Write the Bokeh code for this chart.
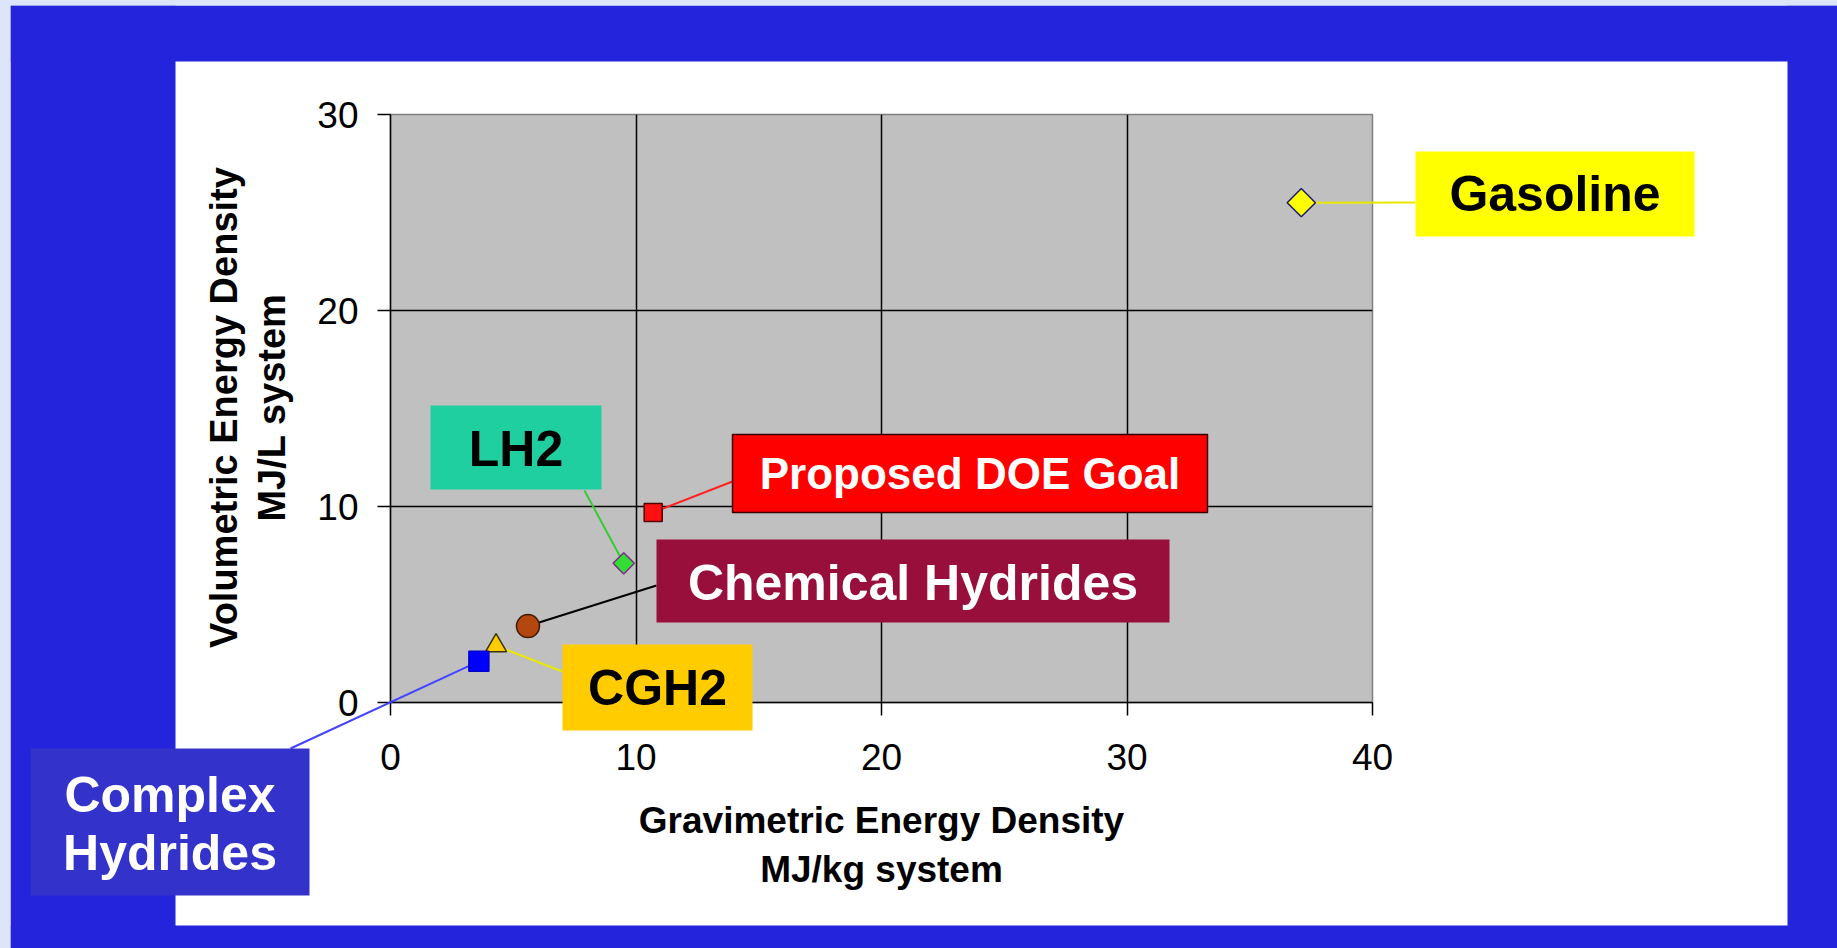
import numpy as np
from bokeh.plotting import figure
from bokeh.models import Range1d, FixedTicker
from bokeh.core.properties import value
from bokeh.embed import file_html
from bokeh.resources import INLINE

# --- data: hydrogen storage options vs gasoline (system basis) ---
names = ["Gasoline", "Proposed DOE Goal", "LH2", "Chemical Hydrides", "CGH2", "Complex Hydrides"]
gravimetric = [37.1, 10.7, 9.5, 5.6, 4.3, 3.6]   # MJ/kg system
volumetric = [25.5, 9.7, 7.1, 3.9, 2.9, 2.1]     # MJ/L system
x_ticks = [0, 10, 20, 30, 40]
y_ticks = [0, 10, 20, 30]
x_title = ["Gravimetric Energy Density", "MJ/kg system"]
y_title = ["Volumetric Energy Density", "MJ/L system"]

# --- page geometry (pixels) ---
W, H = 1837, 948
F_LEFT, F_RIGHT, F_TOP, F_BOTTOM = 390, 1372, 114, 702

X0, X1 = x_ticks[0], x_ticks[-1]
Y0, Y1 = y_ticks[0], y_ticks[-1]


def dx(px):
    return X0 + (px - F_LEFT) * (X1 - X0) / (F_RIGHT - F_LEFT)


def dy(py):
    return Y0 + (F_BOTTOM - py) * (Y1 - Y0) / (F_BOTTOM - F_TOP)


# marker look per series
marker_style = {
    "Gasoline":          dict(marker="square", angle=np.pi / 4, size=20, fill="#ffff00", line="#1a1a70"),
    "Proposed DOE Goal": dict(marker="square", angle=0.0, size=18, fill="#ff1010", line="#500000"),
    "LH2":               dict(marker="square", angle=np.pi / 4, size=15, fill="#33dd33", line="#7a2a8a"),
    "Chemical Hydrides": dict(marker="circle", angle=0.0, size=23, fill="#b3470f", line="#3a1a00"),
    "CGH2":              dict(marker="triangle", angle=0.0, size=21, fill="#ffcc00", line="#3a3300"),
    "Complex Hydrides":  dict(marker="square", angle=0.0, size=20, fill="#0000ff", line="#0000cc"),
}

# callout boxes: (left, top, right, bottom) in px, leader end point in px,
# fill, text colour, font size, text lines with their vertical centres (px)
callouts = {
    "Gasoline":          dict(box=(1415, 151, 1694, 236), end=(1415, 202), fill="#ffff00",
                              color="#000000", size=50, lines=[("Gasoline", 193)], lead="#e8e800"),
    "Proposed DOE Goal": dict(box=(732, 434, 1207, 512), end=(732, 481), fill="#ff0000",
                              color="#ffffff", size=44, lines=[("Proposed DOE Goal", 473)], lead="#ff2020",
                              border="#3a0000"),
    "LH2":               dict(box=(430, 405, 601, 489), end=(584, 490), fill="#1fcf9f",
                              color="#000000", size=50, lines=[("LH2", 448)], lead="#33cc33"),
    "Chemical Hydrides": dict(box=(656, 539, 1169, 622), end=(656, 585), fill="#990f3c",
                              color="#ffffff", size=50, lines=[("Chemical Hydrides", 582)], lead="#000000"),
    "CGH2":              dict(box=(562, 644, 752, 730), end=(562, 671), fill="#ffcc00",
                              color="#000000", size=50, lines=[("CGH2", 687)], lead="#e8e800"),
    "Complex Hydrides":  dict(box=(30, 748, 309, 895), end=(290, 748), fill="#3333cc",
                              color="#ffffff", size=50, lines=[("Complex", 794), ("Hydrides", 852)],
                              lead="#4444ff"),
}

FONT = "Liberation Sans"
BLUE = "#2424dc"
LAVENDER = "#dde5fa"
TOP = "annotation"   # drawn above the axes, not limited to the plot frame

p = figure(
    width=W, height=H,
    x_range=Range1d(X0, X1), y_range=Range1d(Y0, Y1),
    output_backend="svg", toolbar_location=None,
    min_border_left=F_LEFT, min_border_right=W - F_RIGHT,
    min_border_top=F_TOP, min_border_bottom=H - F_BOTTOM,
    background_fill_color="#c0c0c0", border_fill_color="#ffffff",
    outline_line_color="#808080", outline_line_width=1.5,
)

# blue slide surround and thin light strips at the top/left edge
bands = [
    (10, 5, W + 20, 61, BLUE),        # top band
    (10, 925, W + 20, H + 20, BLUE),  # bottom band
    (10, 5, 175, H + 20, BLUE),       # left band
    (1787, 5, W + 20, H + 20, BLUE),  # right band
    (-20, -20, W + 20, 5, LAVENDER),
    (-20, -20, 10, H + 20, LAVENDER),
]
p.quad(left=[dx(b[0]) for b in bands], right=[dx(b[2]) for b in bands],
       top=[dy(b[1]) for b in bands], bottom=[dy(b[3]) for b in bands],
       fill_color=[b[4] for b in bands], line_color=None, level=TOP)

# axes
for ax, ticks in ((p.xaxis, x_ticks), (p.yaxis, y_ticks)):
    ax.ticker = FixedTicker(ticks=ticks)
    ax.axis_line_color = "#000000"
    ax.axis_line_width = 1.5
    ax.major_tick_line_color = "#000000"
    ax.major_tick_line_width = 1.5
    ax.major_tick_in = 0
    ax.major_tick_out = 13
    ax.minor_tick_line_color = None
    ax.major_label_text_font = FONT
    ax.major_label_text_font_size = "37px"
    ax.major_label_text_color = "#000000"
p.xaxis.major_label_standoff = 28
p.yaxis.major_label_standoff = 19

p.xgrid.ticker = FixedTicker(ticks=x_ticks[1:-1])
p.ygrid.ticker = FixedTicker(ticks=y_ticks[1:-1])
p.grid.grid_line_color = "#000000"
p.grid.grid_line_width = 1.5

# axis titles
p.text(x=[(X0 + X1) / 2] * 2, y=[dy(820), dy(869)], text=x_title,
       text_font=value(FONT), text_font_style="bold", text_font_size="37px",
       text_color="#000000", text_align="center", text_baseline="middle", level=TOP)
p.text(x=[dx(223), dx(271)], y=[dy(407)] * 2, text=y_title, angle=np.pi / 2,
       text_font=value(FONT), text_font_style="bold", text_font_size="38px",
       text_color="#000000", text_align="center", text_baseline="middle", level=TOP)

# leader lines from each point to its callout
for name, gx, vy in zip(names, gravimetric, volumetric):
    c = callouts[name]
    ex, ey = c["end"]
    p.segment(x0=[gx], y0=[vy], x1=[dx(ex)], y1=[dy(ey)],
              line_color=c["lead"], line_width=2, level=TOP)

# points
for name, gx, vy in zip(names, gravimetric, volumetric):
    s = marker_style[name]
    p.scatter([gx], [vy], marker=s["marker"], angle=s["angle"], size=s["size"],
              fill_color=s["fill"], line_color=s["line"], line_width=1.5, level=TOP)

# callout boxes and their texts
for name in names:
    c = callouts[name]
    l, t, r, b = c["box"]
    border = c.get("border")
    p.quad(left=[dx(l)], right=[dx(r)], top=[dy(t)], bottom=[dy(b)],
           fill_color=c["fill"], line_color=border, line_width=1.5, level=TOP)
    p.text(x=[dx((l + r) / 2)] * len(c["lines"]), y=[dy(yc) for _, yc in c["lines"]],
           text=[txt for txt, _ in c["lines"]], text_font=value(FONT), text_font_style="bold",
           text_font_size=f"{c['size']}px", text_color=c["color"],
           text_align="center", text_baseline="middle", level=TOP)

open("out.html", "w").write(file_html(p, INLINE))
